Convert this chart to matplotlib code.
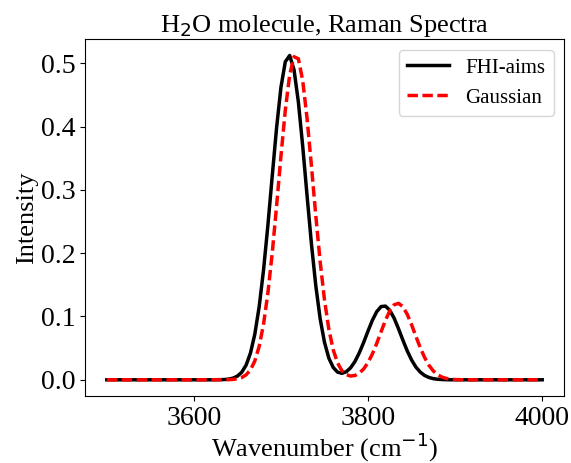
import numpy as np
import matplotlib
matplotlib.use("Agg")
from matplotlib import pyplot as plt

# wavenumber samples (cm^-1)
wavenumber = [3500] + list(range(3600, 3925, 5)) + [4000]

# FHI-aims spectrum, 3600..3920 step 5
fhi_aims = [0.0,
    0.0, 0.0, 0.0, 0.0, 0.0, 0.0001, 0.0002, 0.0004, 0.0011, 0.0026,
    0.0058, 0.0120, 0.0232, 0.0423, 0.0722, 0.1156, 0.1735, 0.2442, 0.3222, 0.3985,
    0.4622, 0.5025, 0.5123, 0.4898, 0.4389, 0.3688, 0.2906, 0.2147, 0.1487, 0.0965,
    0.0591, 0.0342, 0.0195, 0.0121, 0.0102, 0.0127, 0.0190, 0.0290, 0.0427, 0.0592,
    0.0771, 0.0941, 0.1077, 0.1157, 0.1164, 0.1098, 0.0972, 0.0806, 0.0627, 0.0457,
    0.0313, 0.0200, 0.0121, 0.0068, 0.0036, 0.0018, 0.0008, 0.0004, 0.0001, 0.0,
    0.0, 0.0, 0.0, 0.0, 0.0,
    0.0]

# Gaussian spectrum, same samples
gaussian = [0.0,
    0.0, 0.0, 0.0, 0.0, 0.0, 0.0, 0.0, 0.0001, 0.0002, 0.0006,
    0.0016, 0.0036, 0.0078, 0.0157, 0.0298, 0.0528, 0.0879, 0.1371, 0.2005, 0.2750,
    0.3535, 0.4261, 0.4816, 0.5104, 0.5071, 0.4724, 0.4126, 0.3379, 0.2594, 0.1868,
    0.1260, 0.0798, 0.0474, 0.0267, 0.0143, 0.0081, 0.0059, 0.0068, 0.0105, 0.0172,
    0.0273, 0.0409, 0.0576, 0.0760, 0.0940, 0.1090, 0.1185, 0.1208, 0.1155, 0.1035,
    0.0870, 0.0685, 0.0506, 0.0351, 0.0228, 0.0139, 0.0079, 0.0042, 0.0021, 0.0010,
    0.0004, 0.0002, 0.0001, 0.0, 0.0,
    0.0]

plt.rcParams['font.family'] = ['Liberation Serif', 'DejaVu Serif']

fig = plt.figure(figsize=(5.71, 4.63), dpi=100)
ax = fig.add_axes([0.1489, 0.1447, 0.8388, 0.7704])

ax.plot(wavenumber, fhi_aims, color='black', lw=2.5, label='FHI-aims')
ax.plot(wavenumber, gaussian, color='red', lw=2.5, ls='--', dashes=(3.0, 1.3),
        label='Gaussian')

ax.set_xticks([3600, 3800, 4000])
ax.set_yticks([0.0, 0.1, 0.2, 0.3, 0.4, 0.5])
ax.tick_params(labelsize=20)
ax.set_xlabel('Wavenumber (cm$^{-1}$)', fontsize=19, labelpad=0)
ax.set_ylabel('Intensity', fontsize=19, labelpad=2)
ax.set_title('H$_2$O molecule, Raman Spectra', fontsize=19, pad=4)
ax.legend(loc='upper right', fontsize=15)

fig.savefig('out.png', dpi=100)
